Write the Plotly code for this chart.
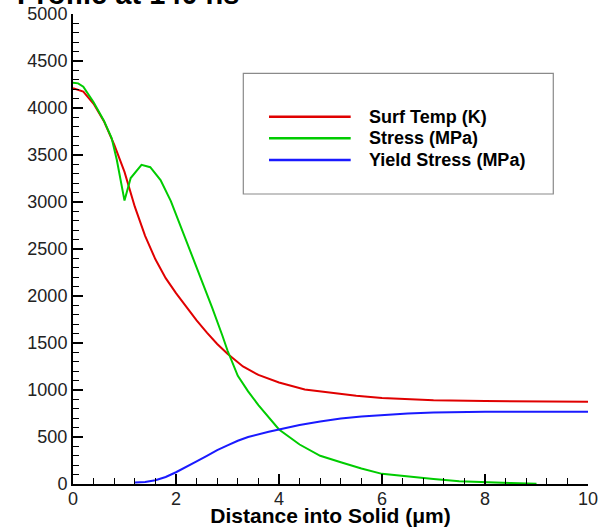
import plotly.graph_objects as go

# ---- data ----
temp_x = [0, 0.2, 0.4, 0.6, 0.8, 1.0, 1.2, 1.4, 1.6, 1.8, 2.0, 2.2, 2.4, 2.6, 2.8, 3.0,
          3.3, 3.6, 4.0, 4.5, 5.0, 5.5, 6.0, 7.0, 8.0, 9.0, 10.0]
temp_y = [4210, 4175, 4045, 3860, 3610, 3320, 2950, 2640, 2390, 2190, 2030, 1880, 1740,
          1610, 1490, 1385, 1250, 1160, 1080, 1005, 970, 940, 915, 890, 882, 878, 876]

stress_x = [0, 0.1, 0.2, 0.4, 0.6, 0.75, 0.85, 1.0, 1.12, 1.33, 1.5, 1.7, 1.9, 2.1, 2.3,
            2.5, 2.7, 2.9, 3.0, 3.2, 3.4, 3.6, 4.0, 4.4, 4.8, 5.2, 5.6, 6.0, 6.5, 7.0,
            7.5, 8.0, 8.5, 9.0]
stress_y = [4270, 4262, 4227, 4062, 3865, 3680, 3450, 3015, 3255, 3395, 3370, 3234, 3010,
            2730, 2445, 2160, 1880, 1580, 1420, 1150, 985, 840, 580, 420, 300, 232, 165,
            108, 78, 52, 30, 18, 10, 3]

yield_x = [1.2, 1.4, 1.6, 1.8, 2.0, 2.2, 2.4, 2.6, 2.8, 3.0, 3.2, 3.4, 3.6, 3.8, 4.0,
           4.4, 4.8, 5.2, 5.6, 6.0, 6.5, 7.0, 7.5, 8.0, 9.0, 10.0]
yield_y = [15, 22, 40, 75, 125, 180, 240, 300, 360, 410, 460, 500, 530, 555, 580,
           628, 665, 697, 718, 734, 750, 760, 766, 768, 769, 769]

series_names = ["Surf Temp (K)", "Stress (MPa)", "Yield Stress (MPa)"]
series_colors = ["#e00000", "#00cc00", "#1a1aff"]

title_text = "Profile at 140 ns"
x_title = "Distance into Solid (μm)"

FONT = "Liberation Sans, Arial, Helvetica, sans-serif"

fig = go.Figure()
for name, color, xs, ys in zip(series_names, series_colors,
                               [temp_x, stress_x, yield_x],
                               [temp_y, stress_y, yield_y]):
    fig.add_trace(go.Scatter(x=xs, y=ys, mode="lines", name=name,
                             line=dict(color=color, width=2), showlegend=False))

# hand-drawn legend box (paper coordinates)
fig.add_shape(type="rect", xref="paper", yref="paper",
              x0=0.3307, x1=0.9326, y0=0.617, y1=0.8738,
              line=dict(color="#8a8a8a", width=1.2), fillcolor="white", layer="below")
row_y = [0.7815, 0.7355, 0.6894]
for name, color, yy in zip(series_names, series_colors, row_y):
    fig.add_shape(type="line", xref="paper", yref="paper",
                  x0=0.3806, x1=0.5392, y0=yy, y1=yy,
                  line=dict(color=color, width=2.5))
    fig.add_annotation(xref="paper", yref="paper", x=0.5709, y=yy,
                       xanchor="left", yanchor="middle", showarrow=False,
                       text="<b>" + name + "</b>",
                       font=dict(family=FONT, size=18, color="black"))

# title, mostly cut off at the top of the page
fig.add_annotation(xref="paper", yref="paper", x=-0.113, y=1.0,
                   xanchor="left", yanchor="bottom", yshift=2, showarrow=False,
                   text="<b>" + title_text + "</b>",
                   font=dict(family=FONT, size=29, color="black"))

axis_common = dict(showline=True, linecolor="black", linewidth=2, mirror=False,
                   ticks="inside", ticklen=10, tickwidth=2, tickcolor="black",
                   showgrid=False, zeroline=False,
                   tickfont=dict(family=FONT, size=18, color="#222"))

fig.update_layout(
    width=599, height=527,
    margin=dict(l=73, r=11, t=14, b=43),
    paper_bgcolor="white", plot_bgcolor="white",
    xaxis=dict(range=[0, 10], tick0=0, dtick=2, ticklabelstandoff=-3,
               minor=dict(dtick=0.4, ticks="inside", ticklen=6, tickwidth=1,
                          tickcolor="black"),
               title=dict(text="<b>" + x_title + "</b>", standoff=2,
                          font=dict(family=FONT, size=21, color="black")),
               automargin=False, **axis_common),
    yaxis=dict(range=[0, 5000], tick0=0, dtick=500,
               minor=dict(dtick=100, ticks="inside", ticklen=6, tickwidth=1,
                          tickcolor="black"),
               automargin=False, **axis_common),
    showlegend=False,
)

fig.write_html("out.html", config={"displayModeBar": False},
               post_script="document.body.style.margin='0px';"
                           "document.body.style.overflow='hidden';")
